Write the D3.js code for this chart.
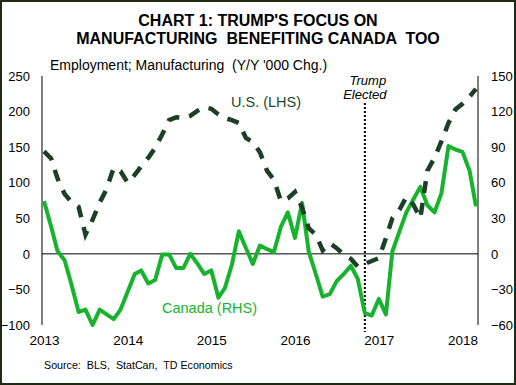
<!DOCTYPE html>
<html lang="en">
<head>
<meta charset="utf-8">
<title>Chart 1</title>
<script src="https://cdn.jsdelivr.net/npm/d3@7"></script>
<style>
  body { margin: 0; background: #fff; }
  svg { display: block; font-family: Arial, "Liberation Sans", sans-serif; }
</style>
</head>
<body>
<svg id="chart" width="516" height="385"></svg>
<script>
// monthly data, Jan 2013 .. Mar 2018
const startMonth = new Date(2013, 0, 1);
// U.S. manufacturing employment, y/y '000 change (LHS)
const usValues = [144, 134, 106, 84, 73, 66, 27, 48, 72, 91, 121, 116,
  100, 111, 123, 135, 149, 168, 188, 192, 191, 194, 201, 206,
  204, 196, 191, 188, 184, 163, 157, 143, 117, 104, 74, 78,
  87, 65, 36, 27, 5, 15, 8, -1, -7, -18, -14, -10,
  -6, 22, 50, 62, 80, 69, 50, 117, 135, 158, 184, 203,
  211, 221, 232];
// Canada manufacturing employment, y/y '000 change (RHS)
const caValues = [44.5, 23, 2.3, -5.4, -26, -49, -47, -60, -47, -51, -55, -47,
  -32, -17, -14, -25, -22, -0.5, -0.5, -12, -12, 0, -8, -17,
  -14, -37, -29, -9, 19, 5, -8.5, 7, 4, 1.4, 23, 35,
  13.5, 43, 2, -17, -36, -34, -23, -17, -10, -21, -50, -52,
  -38, -51, 2, 19, 35, 46, 56.5, 41, 35, 51, 91, 88,
  86, 70, 40];
const leftTicks = [-100, -50, 0, 50, 100, 150, 200, 250];
const rightTicks = [-60, -30, 0, 30, 60, 90, 120, 150];
const yearTicks = [2013, 2014, 2015, 2016, 2017, 2018];
const electionMonth = new Date(2016, 10, 1);

const months = usValues.map((_, i) => d3.timeMonth.offset(startMonth, i));
const svg = d3.select("#chart");

const x = d3.scaleTime()
  .domain([startMonth, months[months.length - 1]])
  .range([44, 476]);
const yL = d3.scaleLinear().domain([-100, 250]).range([325, 76]);
const yR = d3.scaleLinear().domain([-60, 150]).range([325, 76]);

// frame
svg.append("rect")
  .attr("x", 1).attr("y", 1).attr("width", 514).attr("height", 383)
  .attr("fill", "#fff").attr("stroke", "#1e2a14").attr("stroke-width", 2);

// title
const title = svg.append("text")
  .attr("text-anchor", "middle")
  .attr("font-weight", "bold")
  .attr("font-size", 16)
  .attr("fill", "#000");
title.append("tspan").attr("x", 258).attr("y", 26).text("CHART 1: TRUMP'S FOCUS ON");
title.append("tspan").attr("x", 258).attr("y", 44)
  .attr("xml:space", "preserve")
  .text("MANUFACTURING  BENEFITING CANADA  TOO");

svg.append("text")
  .attr("x", 50).attr("y", 70)
  .attr("font-size", 14)
  .attr("xml:space", "preserve")
  .text("Employment; Manufacturing  (Y/Y '000 Chg.)");

// axes
svg.append("g")
  .attr("transform", "translate(42,0)")
  .call(d3.axisLeft(yL).tickValues(leftTicks).tickSize(0).tickPadding(12))
  .call(g => g.select(".domain").remove())
  .selectAll("text").attr("font-size", 13).attr("font-family", "Arial, sans-serif").attr("fill", "#000");

svg.append("g")
  .attr("transform", "translate(478,0)")
  .call(d3.axisRight(yR).tickValues(rightTicks).tickSize(0).tickPadding(13))
  .call(g => g.select(".domain").remove())
  .selectAll("text").attr("font-size", 13).attr("font-family", "Arial, sans-serif").attr("fill", "#000");

svg.append("g")
  .attr("transform", "translate(0,325)")
  .call(d3.axisBottom(x)
    .tickValues(yearTicks.map(yr => new Date(yr, 0, 1)))
    .tickFormat(d3.timeFormat("%Y"))
    .tickSize(0).tickPadding(10))
  .call(g => g.select(".domain").remove())
  .selectAll("text").attr("font-size", 13.5).attr("font-family", "Arial, sans-serif").attr("fill", "#000");

// axis lines
svg.append("line").attr("x1", 42).attr("x2", 42).attr("y1", yL(250)).attr("y2", yL(-100))
  .attr("stroke", "#000").attr("stroke-width", 1);
svg.append("line").attr("x1", 478).attr("x2", 478).attr("y1", yL(250)).attr("y2", yL(-100))
  .attr("stroke", "#000").attr("stroke-width", 1);
svg.append("line").attr("x1", 42).attr("x2", 478).attr("y1", yL(0)).attr("y2", yL(0))
  .attr("stroke", "#000").attr("stroke-width", 1);

// election marker
svg.append("line")
  .attr("x1", x(electionMonth)).attr("x2", x(electionMonth))
  .attr("y1", 103).attr("y2", 332)
  .attr("stroke", "#000").attr("stroke-width", 2)
  .attr("stroke-dasharray", "2,2");
const trump = svg.append("text")
  .attr("text-anchor", "middle")
  .attr("font-style", "italic")
  .attr("font-size", 13);
trump.append("tspan").attr("x", x(electionMonth) + 3).attr("y", 85).text("Trump");
trump.append("tspan").attr("x", x(electionMonth)).attr("y", 99).text("Elected");

// series
const usLine = d3.line().x((d, i) => x(months[i])).y(d => yL(d));
const caLine = d3.line().x((d, i) => x(months[i])).y(d => yR(d));

svg.append("path")
  .datum(caValues)
  .attr("d", caLine)
  .attr("fill", "none")
  .attr("stroke", "#17b32e")
  .attr("stroke-width", 4)
  .attr("stroke-linejoin", "round");

svg.append("path")
  .datum(usValues)
  .attr("d", usLine)
  .attr("fill", "none")
  .attr("stroke", "#1c3f26")
  .attr("stroke-width", 4.5)
  .attr("stroke-dasharray", "12,10");

// series labels
svg.append("text")
  .attr("x", 231).attr("y", 107)
  .attr("font-size", 14.5)
  .attr("fill", "#1c4a2a")
  .text("U.S. (LHS)");
svg.append("text")
  .attr("x", 162).attr("y", 313)
  .attr("font-size", 14.5)
  .attr("fill", "#17b32e")
  .text("Canada (RHS)");

// source
svg.append("text")
  .attr("x", 44).attr("y", 369)
  .attr("font-size", 10.7)
  .attr("xml:space", "preserve")
  .text("Source:  BLS,  StatCan,  TD Economics");
</script>
</body>
</html>
